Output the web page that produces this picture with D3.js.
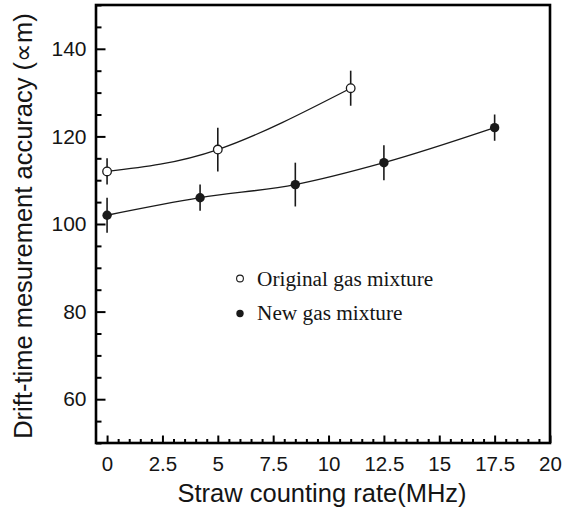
<!DOCTYPE html>
<html>
<head>
<meta charset="utf-8">
<script src="https://cdn.jsdelivr.net/npm/d3@7"></script>
<style>
  html, body { margin: 0; padding: 0; background: #fff; }
  svg { display: block; }
</style>
</head>
<body>
<svg id="chart" width="573" height="512" xmlns="http://www.w3.org/2000/svg"></svg>
<script>
// ---- data ----
const origX = [0, 5, 11];
const origY = [112, 117, 131];
const origErr = [3, 5, 4];

const newX = [0, 4.2, 8.5, 12.5, 17.5];
const newY = [102, 106, 109, 114, 122];
const newErr = [4, 3, 5, 4, 3];

const xTickValues = [0, 2.5, 5, 7.5, 10, 12.5, 15, 17.5, 20];
const xTickLabels = ["0", "2.5", "5", "7.5", "10", "12.5", "15", "17.5", "20"];
const yTickValues = [60, 80, 100, 120, 140];
const yTickLabels = ["60", "80", "100", "120", "140"];

const legendLabels = ["Original gas mixture", "New gas mixture"];
const xTitle = "Straw counting rate(MHz)";
const yTitle = "Drift-time mesurement accuracy (\u221Dm)";

// ---- layout ----
const svg = d3.select("#chart");
const L = 96, R = 550, T = 5, B = 443;
const ink = "#000";

const x = d3.scaleLinear().domain([-0.5, 20]).range([L, R]);
const y = d3.scaleLinear().domain([50, 150]).range([B, T]);

const xMinor = d3.range(0, 20.001, 0.5).filter(v => !xTickValues.includes(v));
const yMinor = d3.range(50, 150.001, 5).filter(v => !yTickValues.includes(v));

// X axis: minor ticks
svg.append("g").attr("transform", `translate(0,${B})`)
  .call(d3.axisBottom(x).tickValues(xMinor).tickSize(-4).tickFormat(""))
  .call(g => g.select(".domain").remove())
  .call(g => g.selectAll("text").remove());
// X axis: major ticks + labels
const gxMaj = svg.append("g").attr("transform", `translate(0,${B})`)
  .call(d3.axisBottom(x).tickValues(xTickValues).tickSize(-7.5)
    .tickFormat((d, i) => xTickLabels[i]).tickPadding(13.5))
  .call(g => g.select(".domain").remove());
gxMaj.selectAll("text").attr("font-family", "Liberation Sans, Arial, sans-serif")
  .attr("font-size", "20.5px").attr("fill", "#151515");

// Y axis: minor ticks
svg.append("g").attr("transform", `translate(${L},0)`)
  .call(d3.axisLeft(y).tickValues(yMinor).tickSize(-5.5).tickFormat(""))
  .call(g => g.select(".domain").remove())
  .call(g => g.selectAll("text").remove());
// Y axis: major ticks + labels
const gyMaj = svg.append("g").attr("transform", `translate(${L},0)`)
  .call(d3.axisLeft(y).tickValues(yTickValues).tickSize(-9.5)
    .tickFormat((d, i) => yTickLabels[i]).tickPadding(9.5))
  .call(g => g.select(".domain").remove());
gyMaj.selectAll("text").attr("font-family", "Liberation Sans, Arial, sans-serif")
  .attr("font-size", "21px").attr("fill", "#151515");

svg.selectAll(".tick line").attr("stroke", ink).style("stroke", ink).attr("stroke-width", 2);

// frame
svg.append("rect").attr("x", L).attr("y", T).attr("width", R - L).attr("height", B - T)
  .attr("fill", "none").style("stroke", ink).style("stroke-width", "2.6px");

// curves
const origPts = origX.map((d, i) => [d, origY[i], origErr[i]]);
const newPts = newX.map((d, i) => [d, newY[i], newErr[i]]);

const lineNat = d3.line().x(d => x(d[0])).y(d => y(d[1])).curve(d3.curveNatural);
const lineMono = d3.line().x(d => x(d[0])).y(d => y(d[1])).curve(d3.curveMonotoneX);

svg.append("path").datum(origPts).attr("d", lineNat)
  .attr("fill", "none").attr("stroke", "#1a1a1a").attr("stroke-width", 1.3);
svg.append("path").datum(newPts).attr("d", lineMono)
  .attr("fill", "none").attr("stroke", "#1a1a1a").attr("stroke-width", 1.3);

// error bars
function errBars(pts) {
  svg.append("g").selectAll("line").data(pts).join("line")
    .attr("x1", d => x(d[0])).attr("x2", d => x(d[0]))
    .attr("y1", d => y(d[1] - d[2])).attr("y2", d => y(d[1] + d[2]))
    .attr("stroke", "#1a1a1a").attr("stroke-width", 1.6);
}
errBars(origPts);
errBars(newPts);

// markers
svg.append("g").selectAll("circle").data(origPts).join("circle")
  .attr("cx", d => x(d[0])).attr("cy", d => y(d[1])).attr("r", 4.3)
  .attr("fill", "#fff").attr("stroke", "#1a1a1a").attr("stroke-width", 1.3);
svg.append("g").selectAll("circle").data(newPts).join("circle")
  .attr("cx", d => x(d[0])).attr("cy", d => y(d[1])).attr("r", 4.7)
  .attr("fill", "#1a1a1a");

// legend
const lg = svg.append("g");
lg.append("circle").attr("cx", 240).attr("cy", 278.5).attr("r", 3.4)
  .attr("fill", "#fff").attr("stroke", "#1a1a1a").attr("stroke-width", 1.1);
lg.append("circle").attr("cx", 240).attr("cy", 313.5).attr("r", 3.7).attr("fill", "#1a1a1a");
lg.selectAll("text").data(legendLabels).join("text")
  .attr("x", 257).attr("y", (d, i) => 285.5 + i * 34.5)
  .attr("font-family", "Liberation Serif, Times New Roman, serif")
  .attr("font-size", "21.3px").attr("fill", "#151515").text(d => d);

// axis titles
svg.append("text").attr("x", (L + R) / 2 - 1).attr("y", 502)
  .attr("text-anchor", "middle")
  .attr("font-family", "Liberation Sans, Arial, sans-serif")
  .attr("font-size", "25.5px").attr("fill", "#151515").text(xTitle);
svg.append("text").attr("transform", "translate(32,226) rotate(-90)")
  .attr("text-anchor", "middle")
  .attr("font-family", "Liberation Sans, Arial, sans-serif")
  .attr("font-size", "25.5px").attr("fill", "#151515").text(yTitle);
</script>
</body>
</html>
